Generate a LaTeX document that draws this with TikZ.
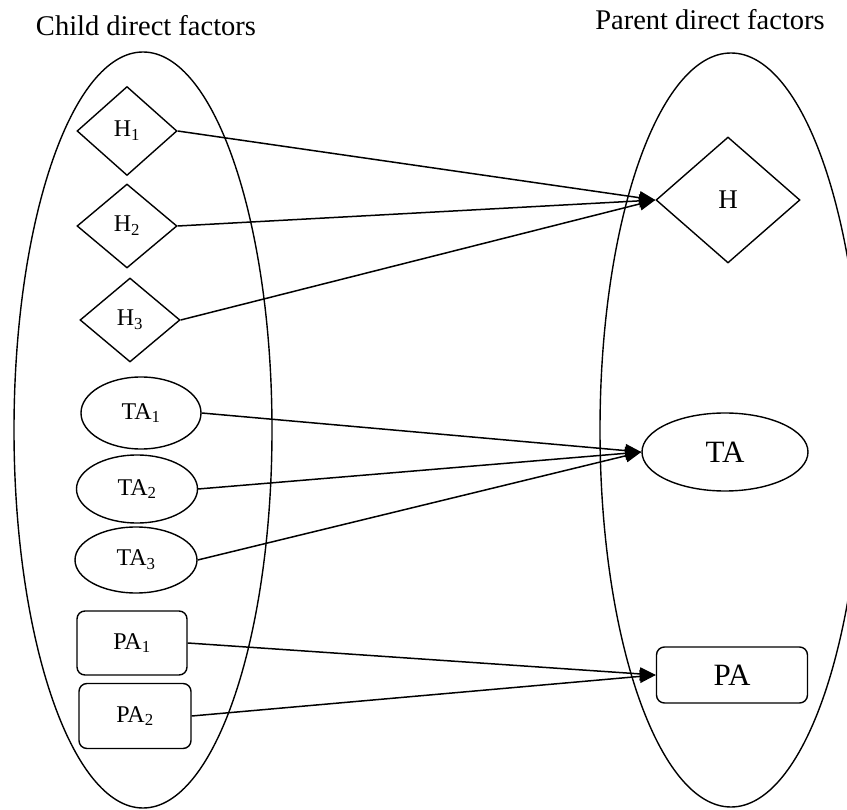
\documentclass[tikz,border=0pt]{standalone}
\usepackage{fontspec}
\setmainfont{Liberation Serif}
\usetikzlibrary{shapes.geometric,arrows.meta}

\tikzset{
  lbl/.style={font=\fontsize{24}{26}\selectfont},
  biglbl/.style={font=\fontsize{31}{33}\selectfont},
  titlelbl/.style={font=\fontsize{28.5}{30}\selectfont, anchor=base},
  dia/.style={draw, line width=1.4pt, diamond, inner sep=0pt},
  oval/.style={draw, line width=1.4pt, ellipse, inner sep=0pt},
  rbox/.style={draw, line width=1.4pt, rectangle, rounded corners=8pt, inner sep=0pt},
  link/.style={line width=1.5pt, -{Triangle[length=16pt,width=13pt]}}
}

\begin{document}
\begin{tikzpicture}[x=1pt,y=-1pt]
\useasboundingbox (0,0) rectangle (847,810);
\clip (0,0) rectangle (847,810);

% Titles
\node[titlelbl] (tchild) at (146,36) {Child direct factors};
\node[titlelbl] (tparent) at (710,30) {Parent direct factors};

% Groups
\draw[line width=1.4pt] (143,430) ellipse [x radius=129, y radius=378];
\draw[line width=1.4pt] (731,430) ellipse [x radius=131, y radius=377];

% Child factors
\node[dia, lbl, minimum width=100pt, minimum height=89pt] (h1) at (127,131) {H\textsubscript{1}};
\node[dia, lbl, minimum width=100pt, minimum height=84pt] (h2) at (127,226) {H\textsubscript{2}};
\node[dia, lbl, minimum width=100pt, minimum height=84pt] (h3) at (130,320) {H\textsubscript{3}};
\node[oval, lbl, minimum width=120pt, minimum height=72pt] (ta1) at (141,413) {TA\textsubscript{1}};
\node[oval, lbl, minimum width=121pt, minimum height=68pt] (ta2) at (137,489) {TA\textsubscript{2}};
\node[oval, lbl, minimum width=122pt, minimum height=66pt] (ta3) at (136,560) {TA\textsubscript{3}};
\node[rbox, lbl, minimum width=110pt, minimum height=64pt] (pa1) at (132,643) {PA\textsubscript{1}};
\node[rbox, lbl, minimum width=112pt, minimum height=65pt] (pa2) at (135,716) {PA\textsubscript{2}};

% Parent factors
\node[dia, font=\fontsize{27}{29}\selectfont, minimum width=144pt, minimum height=126pt] (h) at (728,200) {H};
\node[oval, biglbl, minimum width=166pt, minimum height=78pt] (ta) at (725,452) {TA};
\node[rbox, biglbl, minimum width=151pt, minimum height=56pt] (pa) at (732,675) {PA};

% Links
\foreach \c in {h1,h2,h3} \draw[link] (\c.east) -- (h.west);
\foreach \c in {ta1,ta2,ta3} \draw[link] (\c.east) -- (ta.west);
\foreach \c in {pa1,pa2} \draw[link] (\c.east) -- (pa.west);
\end{tikzpicture}
\end{document}
